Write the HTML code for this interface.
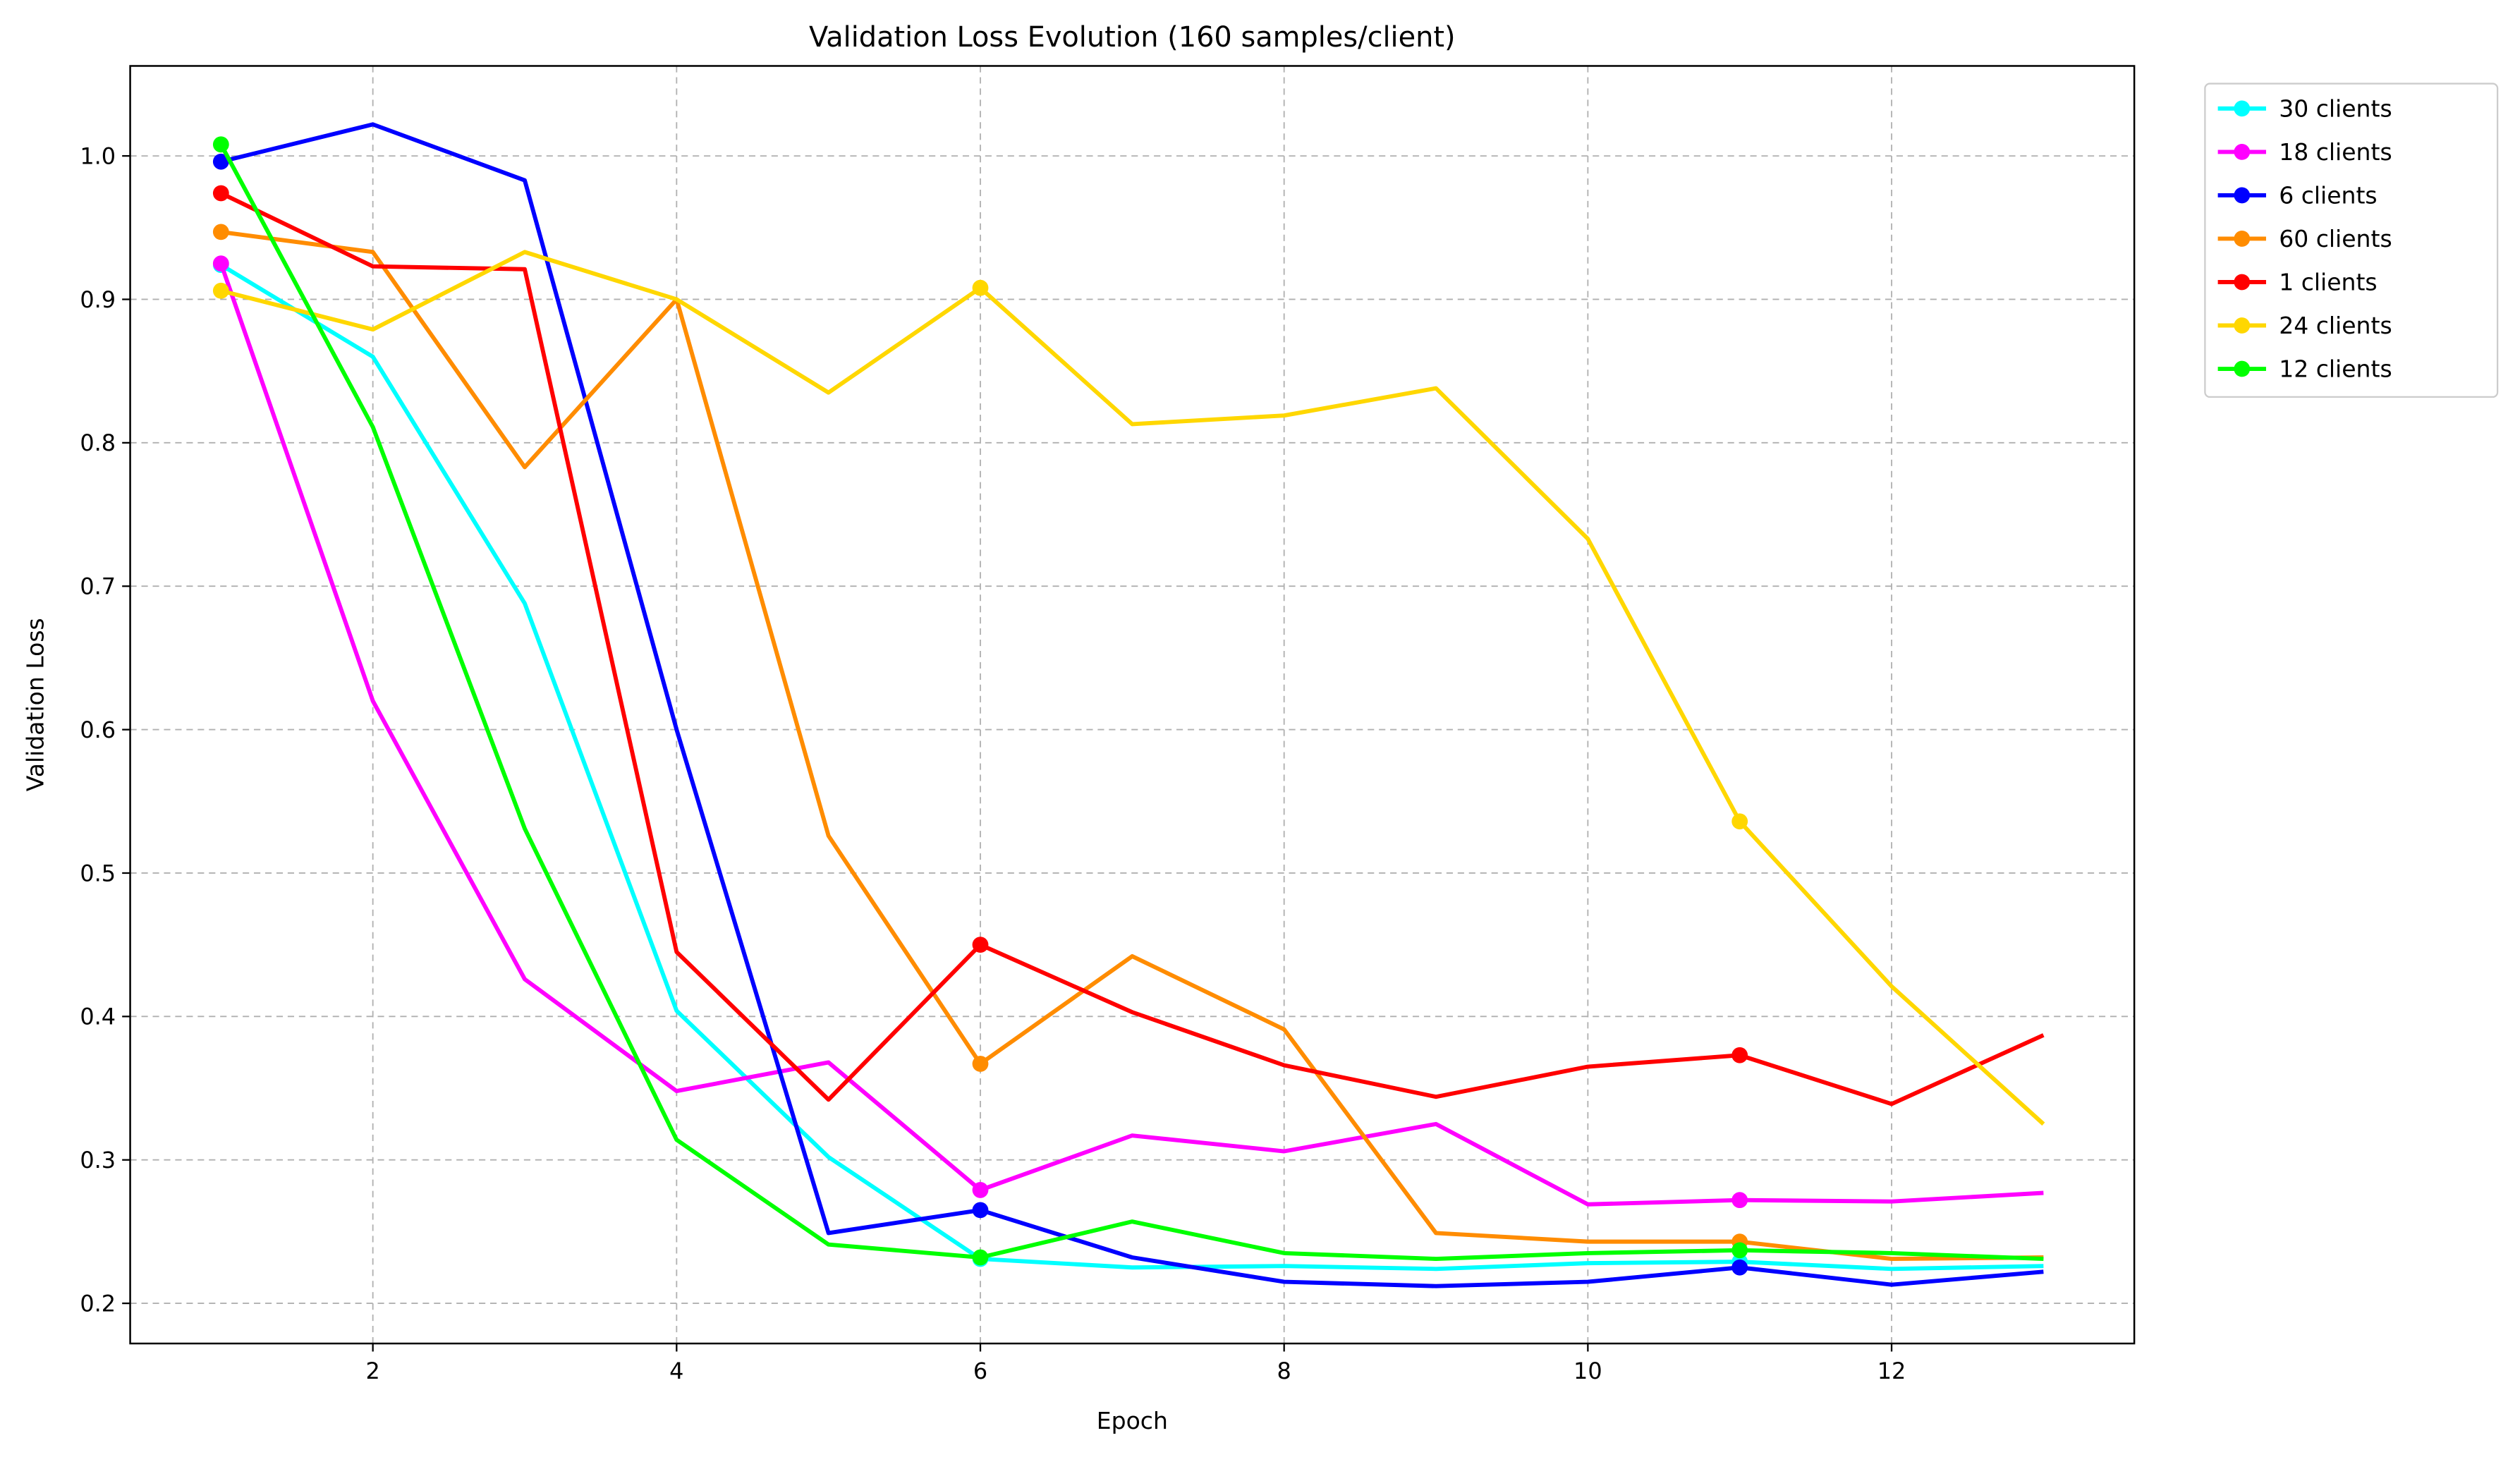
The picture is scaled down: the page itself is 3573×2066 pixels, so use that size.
<!DOCTYPE html>
<html><head><meta charset="utf-8"><style>
html,body{margin:0;padding:0;background:#fff;}
svg{display:block;font-family:"DejaVu Sans","Liberation Sans",sans-serif;}
</style></head><body>
<svg id="chart" width="3573" height="2066" viewBox="0 0 1568 906.6" xmlns="http://www.w3.org/2000/svg">
<rect width="1568" height="906.6" fill="#fff"/>
<text x="704.5" y="29" text-anchor="middle" font-size="17.5">Validation Loss Evolution (160 samples/client)</text>
<g id="grid"></g>
<g id="series"></g>
<rect x="81" y="41" width="1247" height="795" fill="none" stroke="#000" stroke-width="1.1"/>
<g id="ticks"></g>
<text x="704.5" y="889" text-anchor="middle" font-size="14.5">Epoch</text>
<text transform="translate(27,438.5) rotate(-90)" text-anchor="middle" font-size="14.5">Validation Loss</text>
<g id="legend"></g>
</svg>
<script>
const epochs=[1,2,3,4,5,6,7,8,9,10,11,12,13];
const xTicks=[2,4,6,8,10,12];
const yTicks=[0.2,0.3,0.4,0.5,0.6,0.7,0.8,0.9,1.0];
const seriesNames=["30 clients","18 clients","6 clients","60 clients","1 clients","24 clients","12 clients"];
const seriesColors=["#00FFFF","#FF00FF","#0000FF","#FF8C00","#FF0000","#FFD700","#00FF00"];
const s30=[0.924,0.860,0.688,0.404,0.302,0.231,0.225,0.226,0.224,0.228,0.229,0.224,0.226];
const s18=[0.925,0.620,0.426,0.348,0.368,0.279,0.317,0.306,0.325,0.269,0.272,0.271,0.277];
const s6=[0.996,1.022,0.983,0.600,0.249,0.265,0.232,0.215,0.212,0.215,0.225,0.213,0.222];
const s60=[0.947,0.933,0.783,0.900,0.526,0.367,0.442,0.391,0.249,0.243,0.243,0.231,0.232];
const s1=[0.974,0.923,0.921,0.445,0.342,0.450,0.403,0.366,0.344,0.365,0.373,0.339,0.387];
const s24=[0.906,0.879,0.933,0.900,0.835,0.908,0.813,0.819,0.838,0.733,0.536,0.421,0.325];
const s12=[1.008,0.811,0.531,0.314,0.241,0.232,0.257,0.235,0.231,0.235,0.237,0.235,0.231];
const markerEpochs=[1,6,11];
const allSeries=[s30,s18,s6,s60,s1,s24,s12];

const NS="http://www.w3.org/2000/svg";
function xs(e){return 232+(e-2)*94.5;}
function ys(v){return 811-(v-0.2)*892.5;}
function mk(tag,attrs,parent){const el=document.createElementNS(NS,tag);for(const k in attrs)el.setAttribute(k,attrs[k]);parent.appendChild(el);return el;}
const grid=document.getElementById('grid'),ticks=document.getElementById('ticks'),ser=document.getElementById('series'),leg=document.getElementById('legend');

xTicks.forEach(t=>{
  const g=mk('line',{x1:xs(t),x2:xs(t),y1:41,y2:836,stroke:'#b0b0b0','stroke-width':0.8,'stroke-dasharray':'4,3'},grid);
  
  
  const tk=mk('line',{x1:xs(t),x2:xs(t),y1:836,y2:841,stroke:'#000','stroke-width':1},ticks);
  
  
  const tx=mk('text',{x:xs(t),y:858,'text-anchor':'middle','font-size':14},ticks);
  tx.textContent=t;
  
  
});
yTicks.forEach(t=>{
  const g=mk('line',{x1:81,x2:1328,y1:ys(t),y2:ys(t),stroke:'#b0b0b0','stroke-width':0.8,'stroke-dasharray':'4,3'},grid);
  
  
  const tk=mk('line',{x1:76,x2:81,y1:ys(t),y2:ys(t),stroke:'#000','stroke-width':1},ticks);
  
  
  const tx=mk('text',{x:72,y:ys(t)+5,'text-anchor':'end','font-size':14},ticks);
  tx.textContent=t.toFixed(1);
  
  
});
allSeries.forEach((s,i)=>{
  const pts=s.map((v,j)=>xs(epochs[j])+','+ys(v)).join(' ');
  const pl=mk('polyline',{points:pts,fill:'none',stroke:seriesColors[i],'stroke-width':2.6,'stroke-linejoin':'round'},ser);
  
  
  markerEpochs.forEach(e=>{
    const j=epochs.indexOf(e);
    const c=mk('circle',{cx:xs(e),cy:ys(s[j]),r:5,fill:seriesColors[i]},ser);
    
    
  });
});
const lb=mk('rect',{x:1372,y:52,width:182,height:195,rx:3,fill:'#fff',stroke:'#ccc','stroke-width':1},leg);


seriesNames.forEach((n,i)=>{
  const y=67.5+i*27;
  const l=mk('line',{x1:1380,x2:1410,y1:y,y2:y,stroke:seriesColors[i],'stroke-width':2.6},leg);
  
  
  const c=mk('circle',{cx:1395,cy:y,r:5,fill:seriesColors[i]},leg);
  
  
  const t=mk('text',{x:1418,y:y+5,'font-size':14.5},leg);
  t.textContent=n;
  
  
});
</script>
</body></html>
